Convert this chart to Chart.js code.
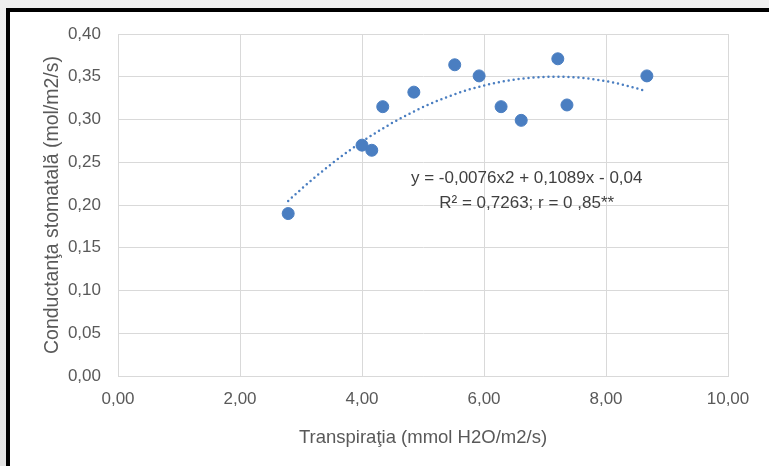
<!DOCTYPE html>
<html>
<head>
<meta charset="utf-8">
<script src="https://cdn.jsdelivr.net/npm/chart.js@4/dist/chart.umd.min.js"></script>
<style>
  html, body { margin: 0; padding: 0; }
  body {
    width: 769px; height: 466px; overflow: hidden;
    background: linear-gradient(to bottom, #efefef, #e4e4e4);
    position: relative;
  }
  #frame {
    position: absolute; left: 6px; top: 8px;
    width: 759px; height: 454px;
    border-left: 4px solid #000; border-top: 4px solid #000;
    background: #fff;
  }
  canvas { display: block; }
</style>
</head>
<body>
<div id="frame"><canvas id="myChart" width="759" height="454"></canvas></div>
<script>
// measured points
var transpiratia = [2.79, 4.00, 4.16, 4.34, 4.85, 5.52, 5.92, 6.28, 6.61, 7.21, 7.36, 8.67];
var conductanta  = [0.190, 0.270, 0.264, 0.315, 0.332, 0.364, 0.351, 0.315, 0.299, 0.371, 0.317, 0.351];

// polynomial trendline shown on the chart: y = a*x^2 + b*x + c
var trendCoef = [-0.0076, 0.1089, -0.04];
var trendRange = [2.79, 8.67];

var eqLines = ['y = -0,0076x2 + 0,1089x - 0,04', 'R\u00b2 = 0,7263; r = 0 ,85**'];
var xTitle = 'Transpira\u0163ia (mmol H2O/m2/s)';
var yTitle = 'Conductan\u0163a stomatal\u0103 (mol/m2/s)';

var pts = [];
for (var i = 0; i < transpiratia.length; i++) {
    pts.push({x: transpiratia[i], y: conductanta[i]});
}
var trend = [];
for (var t = trendRange[0]; t < trendRange[1]; t += 0.05) {
    trend.push({x: t, y: trendCoef[0]*t*t + trendCoef[1]*t + trendCoef[2]});
}
trend.push({x: trendRange[1], y: trendCoef[0]*trendRange[1]*trendRange[1] + trendCoef[1]*trendRange[1] + trendCoef[2]});

function fmt(v, d) { return v.toFixed(d).replace('.', ','); }

var FONT = "'Liberation Sans', Arial, sans-serif";

var eqLabel = {
    id: 'eqLabel',
    afterDatasetsDraw: function (chart) {
        var c = chart.ctx;
        var xs = chart.scales.x, ys = chart.scales.y;
        c.save();
        c.font = '17px ' + FONT;
        c.fillStyle = '#404040';
        c.textAlign = 'center';
        c.textBaseline = 'middle';
        c.fillText(eqLines[0], xs.getPixelForValue(6.70), ys.getPixelForValue(0.2312));
        c.fillText(eqLines[1], xs.getPixelForValue(6.70), ys.getPixelForValue(0.2017));
        c.restore();
    }
};

var ctx = document.getElementById('myChart').getContext('2d');
var myChart = new Chart(ctx, {
    type: 'scatter',
    data: {
        datasets: [{
            label: 'puncte',
            data: pts,
            backgroundColor: 'rgb(74,126,193)',
            borderColor: 'rgb(74,126,193)',
            pointRadius: 6,
            pointHoverRadius: 6
        }, {
            type: 'line',
            label: 'trend',
            data: trend,
            borderColor: 'rgb(74,126,193)',
            borderWidth: 2.5,
            borderDash: [0, 5],
            borderCapStyle: 'round',
            pointRadius: 0,
            fill: false,
            tension: 0
        }]
    },
    options: {
        responsive: false,
        animation: false,
        layout: { padding: { top: 22, right: 41, left: 0, bottom: 0 } },
        plugins: { legend: { display: false }, tooltip: { enabled: false } },
        scales: {
            x: {
                type: 'linear', min: 0, max: 10,
                ticks: { stepSize: 2, padding: 13, color: '#595959', font: { family: FONT, size: 17 },
                    callback: function (v) { return fmt(v, 2); } },
                grid: { color: '#d9d9d9', lineWidth: 1, drawTicks: false },
                border: { display: true, color: '#d9d9d9' },
                title: { display: true, text: xTitle, color: '#595959', font: { family: FONT, size: 18.5 },
                    padding: { top: 0, bottom: 17 } },
                afterFit: function (s) { s.height = 90; s.paddingLeft = 0; s.paddingRight = 0; }
            },
            y: {
                type: 'linear', min: 0, max: 0.4,
                ticks: { stepSize: 0.05, padding: 17, color: '#595959', font: { family: FONT, size: 17 },
                    callback: function (v) { return fmt(v, 2); } },
                grid: { color: '#d9d9d9', lineWidth: 1, drawTicks: false },
                border: { display: true, color: '#d9d9d9' },
                title: { display: true, text: yTitle, color: '#595959', font: { family: FONT, size: 19.5 },
                    padding: { top: 31, bottom: 0 } },
                afterFit: function (s) { s.width = 108; s.paddingTop = 0; s.paddingBottom = 0; }
            }
        }
    },
    plugins: [eqLabel]
});
</script>
</body>
</html>
